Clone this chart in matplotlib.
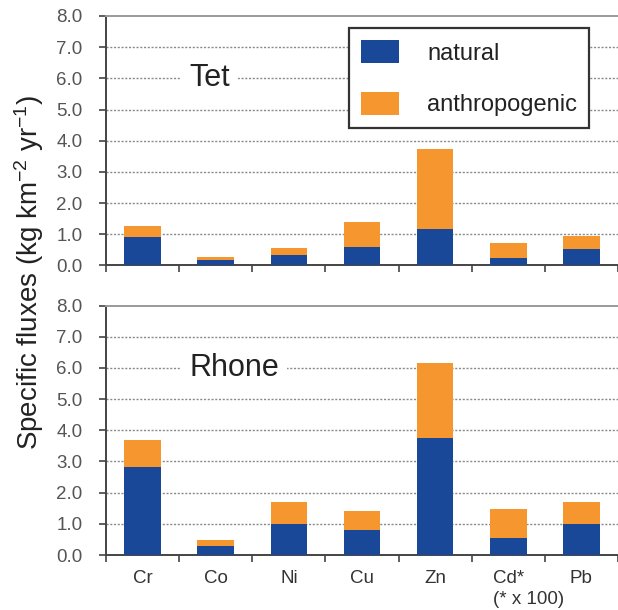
import matplotlib.pyplot as plt

plt.rcParams['font.family'] = ['Liberation Sans', 'DejaVu Sans']
plt.rcParams['mathtext.fontset'] = 'custom'
plt.rcParams['mathtext.rm'] = 'Liberation Sans'
plt.rcParams['mathtext.it'] = 'Liberation Sans'
plt.rcParams['mathtext.default'] = 'regular'

# 数据 (kg km-2 yr-1), Cd 已乘 100
elements = ['Cr', 'Co', 'Ni', 'Cu', 'Zn', 'Cd*', 'Pb']
tet_natural = [0.91, 0.18, 0.35, 0.58, 1.17, 0.24, 0.52]
tet_anthro = [0.37, 0.09, 0.22, 0.81, 2.55, 0.49, 0.41]
rhone_natural = [2.83, 0.30, 0.99, 0.80, 3.76, 0.54, 0.99]
rhone_anthro = [0.85, 0.19, 0.70, 0.61, 2.41, 0.93, 0.72]
y_ticks = [0, 1, 2, 3, 4, 5, 6, 7, 8]

blue = '#1a4898'
orange = '#f5962f'

W, H = 618, 610
fig = plt.figure(figsize=(W / 100, H / 100), dpi=100)
ax_top = fig.add_axes([106 / W, 1 - 265.5 / H, 1 - 106 / W, 249.5 / H])
ax_bot = fig.add_axes([106 / W, 1 - 555 / H, 1 - 106 / W, 249.5 / H])


def draw_panel(ax, natural, anthro, name, show_labels):
    x = list(range(len(elements)))
    ax.bar(x, natural, width=0.5, color=blue, zorder=3, label='natural')
    ax.bar(x, anthro, width=0.5, bottom=natural, color=orange, zorder=3,
           label='anthropogenic')

    ax.set_xlim(-0.5, 6.43)
    ax.set_ylim(0, 8)
    ax.set_yticks(y_ticks)
    ax.set_yticklabels([f'{v:.1f}' for v in y_ticks])
    for v in y_ticks[1:-1]:
        ax.axhline(v, color='#8a8a8a', lw=1.0, ls=(0, (1.5, 1.2)), zorder=1)

    # 类别边界刻度
    ax.set_xticks([i - 0.5 for i in range(len(elements) + 1)])
    ax.set_xticklabels([])
    ax.set_xticks(x, minor=True)
    ax.set_xticklabels(elements if show_labels else [], minor=True)
    ax.tick_params(axis='x', which='minor', length=0, pad=11,
                   labelsize=13.5, labelcolor='#333333')
    ax.tick_params(axis='x', which='major', direction='out', length=5,
                   width=1.2, color='#444444')
    ax.tick_params(axis='y', direction='out', length=5, width=1.2,
                   color='#444444', pad=12, labelsize=13.5,
                   labelcolor='#555555')

    ax.spines['right'].set_visible(False)
    ax.spines['top'].set_color('#9a9a9a')
    ax.spines['top'].set_linewidth(1.4)
    ax.spines['left'].set_color('#444444')
    ax.spines['left'].set_linewidth(1.4)
    ax.spines['bottom'].set_color('#444444')
    ax.spines['bottom'].set_linewidth(1.4)

    ax.text(0.64, 6.0, name, fontsize=22, va='center', ha='left',
            color='#222222', zorder=4,
            bbox=dict(facecolor='white', edgecolor='none', pad=6))


draw_panel(ax_top, tet_natural, tet_anthro, 'Tet', False)
draw_panel(ax_bot, rhone_natural, rhone_anthro, 'Rhone', True)

ax_bot.text(4.79, -0.177, '(* x 100)', transform=ax_bot.get_xaxis_transform(),
            ha='left', va='center', fontsize=13.5, color='#333333')

leg = ax_top.legend(loc='upper left', bbox_to_anchor=(349 / W, 1 - 28 / H),
                    bbox_transform=fig.transFigure, borderaxespad=0,
                    fontsize=17, handlelength=1.62, handleheight=1.15,
                    handletextpad=1.2, labelspacing=1.15, borderpad=0.5,
                    fancybox=False, framealpha=1, edgecolor='#333333')
leg.get_frame().set_linewidth(1.6)
for t in leg.get_texts():
    t.set_color('#222222')

fig.text(29 / W, 1 - 272 / H, 'Specific fluxes (kg km$^{-2}$ yr$^{-1}$)',
         rotation=90, ha='center', va='center', fontsize=20, color='#222222')

fig.savefig('out.png', dpi=100)
